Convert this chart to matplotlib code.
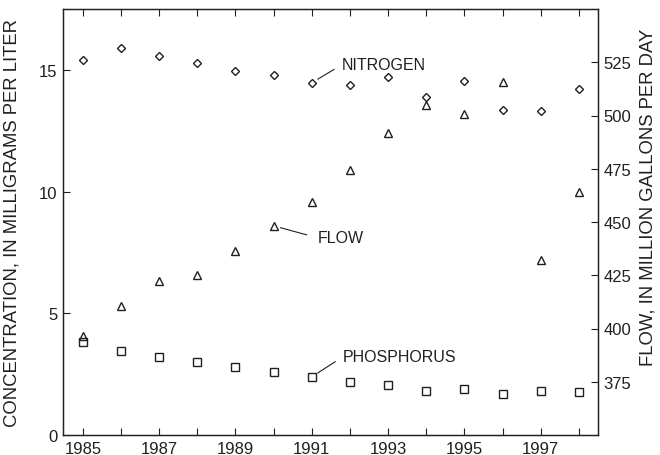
import matplotlib
matplotlib.use("Agg")
import matplotlib.pyplot as plt
import numpy as np

plt.rcParams['font.family'] = ['Liberation Sans', 'DejaVu Sans']

# dados
anos = [1985, 1986, 1987, 1988, 1989, 1990, 1991, 1992, 1993, 1994, 1995, 1996, 1997, 1998]
nitrogenio = [15.40, 15.91, 15.56, 15.29, 14.96, 14.78, 14.47, 14.36, 14.70, 13.88, 14.53, 13.34, 13.30, 14.20]
fosforo = [3.84, 3.46, 3.22, 3.00, 2.78, 2.58, 2.39, 2.18, 2.06, 1.82, 1.91, 1.70, 1.82, 1.76]
vazao = [396.3, 410.4, 422.2, 425.0, 436.6, 448.2, 459.4, 474.3, 492.0, 504.8, 500.9, 515.9, 432.2, 464.1]

anos_rotulo = [1985, 1987, 1989, 1991, 1993, 1995, 1997]
cor = '#231f20'

fig = plt.figure(figsize=(6.6, 4.56), dpi=100)
ax = fig.add_axes([63 / 660, 1 - 436 / 456, (598 - 63) / 660, (436 - 10) / 456])
ax2 = ax.twinx()

estilo = dict(linestyle='none', markerfacecolor='none', markeredgecolor=cor, markeredgewidth=1.0)
ax.plot(anos, nitrogenio, marker='D', markersize=4.2, **estilo)
ax.plot(anos, fosforo, marker='s', markersize=5.4, **estilo)
ax2.plot(anos, vazao, marker='^', markersize=5.8, **estilo)

ax.set_xlim(1984.48, 1998.5)
ax.set_ylim(0, 17.5)
ax2.set_ylim(350, 550)

ax.set_xticks(anos)
ax.set_xticklabels([str(a) if a in anos_rotulo else '' for a in anos])
ax.set_yticks([0, 5, 10, 15])
ax2.set_yticks([375, 400, 425, 450, 475, 500, 525])

ax.tick_params(direction='in', top=True, right=False, length=5, width=0.8,
               labelsize=12, colors=cor, pad=4)
ax2.tick_params(direction='in', length=5, width=0.8, labelsize=12, colors=cor, pad=4)
for a in (ax, ax2):
    for s in a.spines.values():
        s.set_color(cor)
        s.set_linewidth(0.9)

ax.set_ylabel('CONCENTRATION, IN MILLIGRAMS PER LITER', fontsize=13.3, color=cor)
ax.yaxis.set_label_coords(-0.080, 0.5)
ax2.set_ylabel('FLOW, IN MILLION GALLONS PER DAY', fontsize=13.3, color=cor)
ax2.yaxis.set_label_coords(1.078, 0.56)

# rotulos das series com linha de chamada
seta = dict(arrowstyle='-', color=cor, lw=0.8, shrinkB=5, relpos=(0, 0.5))
ax.annotate('NITROGEN', xy=(anos[6], nitrogenio[6]), xytext=(30, 18),
            textcoords='offset pixels', ha='left', va='center', fontsize=11.5, color=cor,
            arrowprops=dict(seta, shrinkA=4))
ax2.annotate('FLOW', xy=(anos[5], vazao[5]), xytext=(44, -12),
             textcoords='offset pixels', ha='left', va='center', fontsize=11.5, color=cor,
             arrowprops=dict(seta, shrinkA=6))
ax.annotate('PHOSPHORUS', xy=(anos[6], fosforo[6]), xytext=(31, 20),
            textcoords='offset pixels', ha='left', va='center', fontsize=11.5, color=cor,
            arrowprops=dict(seta, shrinkA=4))

fig.savefig('out.png', dpi=100)
